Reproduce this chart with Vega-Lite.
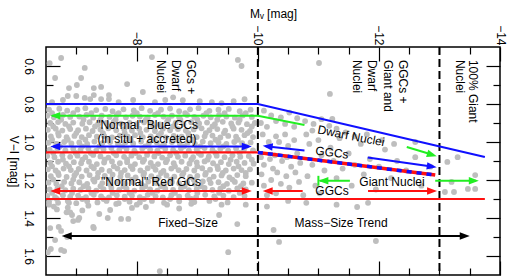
{
"$schema": "https://vega.github.io/schema/vega-lite/v6.json",
"width": 454, "height": 228,
"autosize": {"type": "none"},
"padding": {"left": 46, "top": 47, "right": 8, "bottom": 5},
"config": {
  "view": {"stroke": "#000", "strokeWidth": 1.5},
  "font": "Liberation Sans",
  "axis": {"labelFont": "Liberation Sans", "labelFontSize": 12, "labelColor": "#000", "titleFont": "Liberation Sans", "titleFontSize": 12, "titleFontWeight": "normal", "titleColor": "#000", "grid": false, "domain": false, "tickColor": "#000", "tickWidth": 1.2}
},
"resolve": {"axis": {"x": "independent", "y": "independent"}},
"datasets": {
"stars": [
{"mv":-6.75,"vi":0.558},{"mv":-7.14,"vi":0.61},{"mv":-6.65,"vi":0.663},{"mv":-7.08,"vi":0.663},{"mv":-7.84,"vi":0.695},{"mv":-6.88,"vi":0.716},{"mv":-7.01,"vi":0.70},{"mv":-7.29,"vi":0.716},{"mv":-7.41,"vi":0.71},{"mv":-8.10,"vi":0.737},{"mv":-6.86,"vi":0.758},{"mv":-7.0,"vi":0.758},{"mv":-7.14,"vi":0.768},{"mv":-7.29,"vi":0.753},{"mv":-7.23,"vi":0.774},{"mv":-7.41,"vi":0.774},{"mv":-7.54,"vi":0.753},{"mv":-7.54,"vi":0.774},{"mv":-7.94,"vi":0.779},{"mv":-6.78,"vi":0.779},{"mv":-9.67,"vi":0.568},{"mv":-9.73,"vi":0.60},{"mv":-8.47,"vi":0.779},{"mv":-8.76,"vi":0.78},{"mv":-9.04,"vi":0.785},{"mv":-9.24,"vi":0.79},{"mv":-9.6,"vi":0.785},{"mv":-9.78,"vi":0.775},{"mv":-6.6,"vi":0.79},{"mv":-7.7,"vi":0.79},{"mv":-8.3,"vi":0.79},{"mv":-9.4,"vi":0.795},{"mv":-8.6,"vi":0.765},{"mv":-6.56,"vi":0.585},{"mv":-8.25,"vi":0.553},
{"mv":-11.01,"vi":0.584},{"mv":-11.19,"vi":0.747},{"mv":-10.1,"vi":0.835},{"mv":-10.22,"vi":0.86},{"mv":-10.38,"vi":0.87},{"mv":-10.52,"vi":0.845},{"mv":-10.65,"vi":0.875},{"mv":-10.3,"vi":0.89},{"mv":-10.45,"vi":0.905},{"mv":-10.6,"vi":0.92},{"mv":-10.78,"vi":0.89},{"mv":-10.92,"vi":0.905},{"mv":-11.05,"vi":0.88},{"mv":-11.18,"vi":0.915},{"mv":-11.3,"vi":0.93},{"mv":-11.45,"vi":0.95},{"mv":-11.23,"vi":0.879},{"mv":-10.15,"vi":0.92},{"mv":-10.05,"vi":0.9},{"mv":-10.9,"vi":0.94},{"mv":-11.6,"vi":0.97},{"mv":-11.8,"vi":0.96},{"mv":-12.05,"vi":0.99},{"mv":-12.25,"vi":1.01},{"mv":-12.6,"vi":1.0},
{"mv":-10.08,"vi":0.96},{"mv":-10.18,"vi":1.0},{"mv":-10.05,"vi":1.08},{"mv":-10.2,"vi":1.09},{"mv":-10.1,"vi":1.12},{"mv":-10.25,"vi":1.14},{"mv":-10.06,"vi":1.17},{"mv":-10.22,"vi":1.2},{"mv":-10.1,"vi":1.23},{"mv":-10.15,"vi":1.28},{"mv":-10.3,"vi":0.97},{"mv":-10.35,"vi":1.0},{"mv":-10.28,"vi":1.07},{"mv":-10.4,"vi":1.1},{"mv":-10.32,"vi":1.16},{"mv":-10.38,"vi":1.22},{"mv":-10.3,"vi":1.27},{"mv":-10.45,"vi":0.96},{"mv":-10.5,"vi":1.02},{"mv":-10.48,"vi":1.08},{"mv":-10.55,"vi":1.13},{"mv":-10.47,"vi":1.18},{"mv":-10.52,"vi":1.24},{"mv":-10.6,"vi":0.99},{"mv":-10.65,"vi":1.06},{"mv":-10.7,"vi":1.11},{"mv":-10.62,"vi":1.16},{"mv":-10.68,"vi":1.21},{"mv":-10.75,"vi":1.28},{"mv":-10.8,"vi":0.96},{"mv":-10.85,"vi":1.01},{"mv":-10.9,"vi":1.12},{"mv":-10.82,"vi":1.18},{"mv":-10.95,"vi":1.23},{"mv":-11.0,"vi":0.99},{"mv":-11.05,"vi":1.07},{"mv":-11.1,"vi":1.15},{"mv":-11.02,"vi":1.27},{"mv":-11.2,"vi":1.03},{"mv":-11.25,"vi":1.1},{"mv":-11.3,"vi":1.19},{"mv":-11.35,"vi":0.98},{"mv":-11.4,"vi":1.14},{"mv":-11.5,"vi":1.06},{"mv":-11.55,"vi":1.23},{"mv":-11.6,"vi":1.12},{"mv":-11.7,"vi":1.01},{"mv":-11.75,"vi":1.17},{"mv":-11.85,"vi":1.09},{"mv":-11.95,"vi":1.25},{"mv":-12.0,"vi":1.13},{"mv":-12.1,"vi":1.04},{"mv":-12.2,"vi":1.19},{"mv":-12.3,"vi":1.1},{"mv":-12.45,"vi":1.15},{"mv":-12.6,"vi":1.08},{"mv":-12.7,"vi":1.23},{"mv":-12.85,"vi":1.13},{"mv":-13.09,"vi":1.263},{"mv":-13.24,"vi":1.263},{"mv":-13.47,"vi":1.247},{"mv":-13.59,"vi":1.247},{"mv":-13.59,"vi":1.174},{"mv":-13.13,"vi":1.105},{"mv":-13.3,"vi":1.08},{"mv":-13.2,"vi":1.21},
{"mv":-6.55,"vi":1.33},{"mv":-6.63,"vi":1.34},{"mv":-6.88,"vi":1.32},{"mv":-6.86,"vi":1.345},{"mv":-6.68,"vi":1.355},{"mv":-6.93,"vi":1.384},{"mv":-6.84,"vi":1.37},{"mv":-7.05,"vi":1.40},{"mv":-6.95,"vi":1.416},{"mv":-7.38,"vi":1.379},{"mv":-7.52,"vi":1.40},{"mv":-7.56,"vi":1.358},{"mv":-7.66,"vi":1.326},{"mv":-7.74,"vi":1.405},{"mv":-7.86,"vi":1.405},{"mv":-7.92,"vi":1.347},{"mv":-8.15,"vi":1.342},{"mv":-6.57,"vi":1.453},{"mv":-6.71,"vi":1.447},{"mv":-6.75,"vi":1.468},{"mv":-7.29,"vi":1.453},{"mv":-6.65,"vi":1.516},{"mv":-6.58,"vi":1.563},{"mv":-6.75,"vi":1.568},{"mv":-6.80,"vi":1.574},{"mv":-6.53,"vi":1.58},{"mv":-9.36,"vi":1.384},{"mv":-9.66,"vi":1.432},{"mv":-9.51,"vi":1.58},{"mv":-8.38,"vi":1.68},{"mv":-6.85,"vi":1.50},{"mv":-8.5,"vi":1.33},{"mv":-8.9,"vi":1.325},{"mv":-9.4,"vi":1.33},{"mv":-7.2,"vi":1.335},{"mv":-7.1,"vi":1.36},{"mv":-8.0,"vi":1.33},{"mv":-9.8,"vi":1.33},{"mv":-8.7,"vi":1.35},{"mv":-7.03,"vi":1.41},{"mv":-7.28,"vi":1.447},{"mv":-6.9,"vi":1.37},
{"mv":-10.26,"vi":1.463},{"mv":-10.35,"vi":1.526},{"mv":-11.95,"vi":1.521},{"mv":-11.64,"vi":1.342},{"mv":-11.82,"vi":1.32},{"mv":-10.5,"vi":1.31},{"mv":-10.8,"vi":1.32},{"mv":-11.3,"vi":1.33},{"mv":-10.15,"vi":1.34},
{"mv":-6.55,"vi":0.83},{"mv":-6.72,"vi":0.825},{"mv":-6.85,"vi":0.835},{"mv":-7.02,"vi":0.83},{"mv":-7.15,"vi":0.822},{"mv":-7.33,"vi":0.832},{"mv":-7.48,"vi":0.826},{"mv":-7.6,"vi":0.838},{"mv":-7.78,"vi":0.828},{"mv":-7.95,"vi":0.834},{"mv":-8.08,"vi":0.822},{"mv":-8.22,"vi":0.836},{"mv":-8.4,"vi":0.83},{"mv":-8.55,"vi":0.824},{"mv":-8.7,"vi":0.838},{"mv":-8.88,"vi":0.828},{"mv":-9.02,"vi":0.822},{"mv":-9.2,"vi":0.836},{"mv":-9.35,"vi":0.83},{"mv":-9.52,"vi":0.826},{"mv":-9.7,"vi":0.838},{"mv":-9.88,"vi":0.83},
{"mv":-6.52,"vi":0.862},{"mv":-6.63,"vi":0.87},{"mv":-6.78,"vi":0.858},{"mv":-6.9,"vi":0.868},{"mv":-7.05,"vi":0.866},{"mv":-7.17,"vi":0.858},{"mv":-7.28,"vi":0.872},{"mv":-7.42,"vi":0.862},{"mv":-7.55,"vi":0.868},{"mv":-7.67,"vi":0.858},{"mv":-7.82,"vi":0.87},{"mv":-7.93,"vi":0.862},{"mv":-8.05,"vi":0.866},{"mv":-8.18,"vi":0.872},{"mv":-8.3,"vi":0.858},{"mv":-8.44,"vi":0.866},{"mv":-8.58,"vi":0.862},{"mv":-8.7,"vi":0.87},{"mv":-8.83,"vi":0.858},{"mv":-8.95,"vi":0.868},{"mv":-9.1,"vi":0.862},{"mv":-9.22,"vi":0.87},{"mv":-9.36,"vi":0.858},{"mv":-9.48,"vi":0.866},{"mv":-9.62,"vi":0.872},{"mv":-9.75,"vi":0.86},{"mv":-9.9,"vi":0.868},
{"mv":-6.57,"vi":0.9},{"mv":-6.7,"vi":0.895},{"mv":-6.82,"vi":0.905},{"mv":-6.95,"vi":0.898},{"mv":-7.1,"vi":0.904},{"mv":-7.22,"vi":0.896},{"mv":-7.36,"vi":0.906},{"mv":-7.5,"vi":0.9},{"mv":-7.62,"vi":0.894},{"mv":-7.74,"vi":0.904},{"mv":-7.88,"vi":0.9},{"mv":-8.0,"vi":0.906},{"mv":-8.12,"vi":0.896},{"mv":-8.25,"vi":0.902},{"mv":-8.38,"vi":0.908},{"mv":-8.5,"vi":0.894},{"mv":-8.64,"vi":0.9},{"mv":-8.77,"vi":0.906},{"mv":-8.9,"vi":0.896},{"mv":-9.03,"vi":0.902},{"mv":-9.16,"vi":0.898},{"mv":-9.29,"vi":0.906},{"mv":-9.42,"vi":0.894},{"mv":-9.56,"vi":0.902},{"mv":-9.68,"vi":0.898},{"mv":-9.82,"vi":0.906},{"mv":-9.95,"vi":0.9},
{"mv":-6.53,"vi":0.936},{"mv":-6.66,"vi":0.93},{"mv":-6.77,"vi":0.94},{"mv":-6.9,"vi":0.932},{"mv":-7.03,"vi":0.938},{"mv":-7.16,"vi":0.93},{"mv":-7.27,"vi":0.942},{"mv":-7.4,"vi":0.934},{"mv":-7.53,"vi":0.928},{"mv":-7.66,"vi":0.938},{"mv":-7.79,"vi":0.932},{"mv":-7.92,"vi":0.94},{"mv":-8.04,"vi":0.93},{"mv":-8.16,"vi":0.936},{"mv":-8.3,"vi":0.942},{"mv":-8.43,"vi":0.93},{"mv":-8.55,"vi":0.938},{"mv":-8.68,"vi":0.932},{"mv":-8.81,"vi":0.94},{"mv":-8.94,"vi":0.934},{"mv":-9.07,"vi":0.928},{"mv":-9.2,"vi":0.938},{"mv":-9.33,"vi":0.932},{"mv":-9.46,"vi":0.94},{"mv":-9.6,"vi":0.93},{"mv":-9.73,"vi":0.936},{"mv":-9.87,"vi":0.942},
{"mv":-6.58,"vi":0.97},{"mv":-6.71,"vi":0.966},{"mv":-6.84,"vi":0.975},{"mv":-6.97,"vi":0.968},{"mv":-7.09,"vi":0.974},{"mv":-7.21,"vi":0.964},{"mv":-7.34,"vi":0.972},{"mv":-7.46,"vi":0.968},{"mv":-7.59,"vi":0.976},{"mv":-7.72,"vi":0.966},{"mv":-7.85,"vi":0.972},{"mv":-7.97,"vi":0.964},{"mv":-8.1,"vi":0.974},{"mv":-8.23,"vi":0.97},{"mv":-8.36,"vi":0.966},{"mv":-8.48,"vi":0.976},{"mv":-8.61,"vi":0.968},{"mv":-8.74,"vi":0.972},{"mv":-8.86,"vi":0.964},{"mv":-8.99,"vi":0.974},{"mv":-9.12,"vi":0.97},{"mv":-9.25,"vi":0.966},{"mv":-9.38,"vi":0.976},{"mv":-9.51,"vi":0.968},{"mv":-9.64,"vi":0.972},{"mv":-9.78,"vi":0.964},{"mv":-9.92,"vi":0.974},
{"mv":-6.54,"vi":1.004},{"mv":-6.67,"vi":1.01},{"mv":-6.8,"vi":1.0},{"mv":-6.92,"vi":1.008},{"mv":-7.05,"vi":1.002},{"mv":-7.18,"vi":1.01},{"mv":-7.3,"vi":0.998},{"mv":-7.43,"vi":1.006},{"mv":-7.56,"vi":1.0},{"mv":-7.69,"vi":1.01},{"mv":-7.81,"vi":1.002},{"mv":-7.94,"vi":1.008},{"mv":-8.07,"vi":0.998},{"mv":-8.2,"vi":1.006},{"mv":-8.33,"vi":1.002},{"mv":-8.45,"vi":1.01},{"mv":-8.58,"vi":1.0},{"mv":-8.71,"vi":1.008},{"mv":-8.84,"vi":1.002},{"mv":-8.96,"vi":1.01},{"mv":-9.09,"vi":0.998},{"mv":-9.22,"vi":1.006},{"mv":-9.35,"vi":1.002},{"mv":-9.48,"vi":1.01},{"mv":-9.61,"vi":1.0},{"mv":-9.74,"vi":1.006},{"mv":-9.88,"vi":1.002},
{"mv":-6.56,"vi":1.04},{"mv":-6.69,"vi":1.034},{"mv":-6.82,"vi":1.044},{"mv":-6.95,"vi":1.036},{"mv":-7.07,"vi":1.042},{"mv":-7.2,"vi":1.034},{"mv":-7.33,"vi":1.046},{"mv":-7.45,"vi":1.038},{"mv":-7.58,"vi":1.032},{"mv":-7.71,"vi":1.042},{"mv":-7.83,"vi":1.036},{"mv":-7.96,"vi":1.046},{"mv":-8.09,"vi":1.034},{"mv":-8.22,"vi":1.04},{"mv":-8.34,"vi":1.046},{"mv":-8.47,"vi":1.036},{"mv":-8.6,"vi":1.042},{"mv":-8.73,"vi":1.034},{"mv":-8.86,"vi":1.044},{"mv":-8.99,"vi":1.038},{"mv":-9.12,"vi":1.032},{"mv":-9.25,"vi":1.042},{"mv":-9.38,"vi":1.036},{"mv":-9.51,"vi":1.046},{"mv":-9.64,"vi":1.034},{"mv":-9.77,"vi":1.04},{"mv":-9.92,"vi":1.044},
{"mv":-6.52,"vi":1.074},{"mv":-6.64,"vi":1.08},{"mv":-6.77,"vi":1.07},{"mv":-6.9,"vi":1.078},{"mv":-7.02,"vi":1.072},{"mv":-7.15,"vi":1.08},{"mv":-7.28,"vi":1.068},{"mv":-7.4,"vi":1.076},{"mv":-7.53,"vi":1.082},{"mv":-7.66,"vi":1.07},{"mv":-7.79,"vi":1.078},{"mv":-7.91,"vi":1.072},{"mv":-8.04,"vi":1.08},{"mv":-8.17,"vi":1.068},{"mv":-8.29,"vi":1.076},{"mv":-8.42,"vi":1.082},{"mv":-8.55,"vi":1.07},{"mv":-8.68,"vi":1.078},{"mv":-8.8,"vi":1.072},{"mv":-8.93,"vi":1.08},{"mv":-9.06,"vi":1.068},{"mv":-9.19,"vi":1.076},{"mv":-9.32,"vi":1.072},{"mv":-9.45,"vi":1.08},{"mv":-9.58,"vi":1.07},{"mv":-9.71,"vi":1.078},{"mv":-9.85,"vi":1.074},
{"mv":-6.57,"vi":1.11},{"mv":-6.7,"vi":1.104},{"mv":-6.83,"vi":1.114},{"mv":-6.96,"vi":1.106},{"mv":-7.08,"vi":1.112},{"mv":-7.21,"vi":1.104},{"mv":-7.34,"vi":1.116},{"mv":-7.46,"vi":1.108},{"mv":-7.59,"vi":1.102},{"mv":-7.72,"vi":1.112},{"mv":-7.84,"vi":1.106},{"mv":-7.97,"vi":1.116},{"mv":-8.1,"vi":1.104},{"mv":-8.23,"vi":1.11},{"mv":-8.35,"vi":1.116},{"mv":-8.48,"vi":1.106},{"mv":-8.61,"vi":1.112},{"mv":-8.74,"vi":1.104},{"mv":-8.87,"vi":1.114},{"mv":-8.99,"vi":1.108},{"mv":-9.12,"vi":1.102},{"mv":-9.26,"vi":1.112},{"mv":-9.39,"vi":1.106},{"mv":-9.52,"vi":1.116},{"mv":-9.65,"vi":1.104},{"mv":-9.78,"vi":1.11},{"mv":-9.93,"vi":1.114},
{"mv":-6.53,"vi":1.144},{"mv":-6.66,"vi":1.15},{"mv":-6.79,"vi":1.14},{"mv":-6.91,"vi":1.148},{"mv":-7.04,"vi":1.142},{"mv":-7.17,"vi":1.15},{"mv":-7.29,"vi":1.138},{"mv":-7.42,"vi":1.146},{"mv":-7.55,"vi":1.152},{"mv":-7.68,"vi":1.14},{"mv":-7.8,"vi":1.148},{"mv":-7.93,"vi":1.142},{"mv":-8.06,"vi":1.15},{"mv":-8.18,"vi":1.138},{"mv":-8.31,"vi":1.146},{"mv":-8.44,"vi":1.152},{"mv":-8.57,"vi":1.14},{"mv":-8.69,"vi":1.148},{"mv":-8.82,"vi":1.142},{"mv":-8.95,"vi":1.15},{"mv":-9.08,"vi":1.138},{"mv":-9.21,"vi":1.146},{"mv":-9.34,"vi":1.142},{"mv":-9.47,"vi":1.15},{"mv":-9.6,"vi":1.14},{"mv":-9.73,"vi":1.148},{"mv":-9.87,"vi":1.144},
{"mv":-6.58,"vi":1.18},{"mv":-6.71,"vi":1.174},{"mv":-6.84,"vi":1.184},{"mv":-6.97,"vi":1.176},{"mv":-7.09,"vi":1.182},{"mv":-7.22,"vi":1.174},{"mv":-7.35,"vi":1.186},{"mv":-7.47,"vi":1.178},{"mv":-7.6,"vi":1.172},{"mv":-7.73,"vi":1.182},{"mv":-7.85,"vi":1.176},{"mv":-7.98,"vi":1.186},{"mv":-8.11,"vi":1.174},{"mv":-8.24,"vi":1.18},{"mv":-8.36,"vi":1.186},{"mv":-8.49,"vi":1.176},{"mv":-8.62,"vi":1.182},{"mv":-8.75,"vi":1.174},{"mv":-8.88,"vi":1.184},{"mv":-9.0,"vi":1.178},{"mv":-9.13,"vi":1.172},{"mv":-9.27,"vi":1.182},{"mv":-9.4,"vi":1.176},{"mv":-9.53,"vi":1.186},{"mv":-9.66,"vi":1.174},{"mv":-9.8,"vi":1.18},
{"mv":-6.54,"vi":1.214},{"mv":-6.67,"vi":1.22},{"mv":-6.8,"vi":1.21},{"mv":-6.92,"vi":1.218},{"mv":-7.05,"vi":1.212},{"mv":-7.18,"vi":1.22},{"mv":-7.3,"vi":1.208},{"mv":-7.43,"vi":1.216},{"mv":-7.56,"vi":1.222},{"mv":-7.69,"vi":1.21},{"mv":-7.81,"vi":1.218},{"mv":-7.94,"vi":1.212},{"mv":-8.07,"vi":1.22},{"mv":-8.19,"vi":1.208},{"mv":-8.32,"vi":1.216},{"mv":-8.45,"vi":1.222},{"mv":-8.58,"vi":1.21},{"mv":-8.7,"vi":1.218},{"mv":-8.83,"vi":1.212},{"mv":-8.96,"vi":1.22},{"mv":-9.09,"vi":1.208},{"mv":-9.22,"vi":1.216},{"mv":-9.35,"vi":1.212},{"mv":-9.49,"vi":1.22},{"mv":-9.62,"vi":1.21},{"mv":-9.76,"vi":1.218},{"mv":-9.9,"vi":1.214},
{"mv":-6.56,"vi":1.25},{"mv":-6.69,"vi":1.244},{"mv":-6.82,"vi":1.254},{"mv":-6.95,"vi":1.246},{"mv":-7.07,"vi":1.252},{"mv":-7.2,"vi":1.244},{"mv":-7.33,"vi":1.256},{"mv":-7.45,"vi":1.248},{"mv":-7.58,"vi":1.242},{"mv":-7.71,"vi":1.252},{"mv":-7.83,"vi":1.246},{"mv":-7.96,"vi":1.256},{"mv":-8.09,"vi":1.244},{"mv":-8.22,"vi":1.25},{"mv":-8.34,"vi":1.256},{"mv":-8.47,"vi":1.246},{"mv":-8.6,"vi":1.252},{"mv":-8.73,"vi":1.244},{"mv":-8.86,"vi":1.254},{"mv":-8.99,"vi":1.248},{"mv":-9.12,"vi":1.242},{"mv":-9.25,"vi":1.252},{"mv":-9.38,"vi":1.246},{"mv":-9.52,"vi":1.256},{"mv":-9.66,"vi":1.244},{"mv":-9.8,"vi":1.25},
{"mv":-6.52,"vi":1.284},{"mv":-6.65,"vi":1.29},{"mv":-6.78,"vi":1.28},{"mv":-6.9,"vi":1.288},{"mv":-7.03,"vi":1.282},{"mv":-7.16,"vi":1.29},{"mv":-7.29,"vi":1.278},{"mv":-7.41,"vi":1.286},{"mv":-7.54,"vi":1.292},{"mv":-7.67,"vi":1.28},{"mv":-7.8,"vi":1.288},{"mv":-7.92,"vi":1.282},{"mv":-8.05,"vi":1.29},{"mv":-8.18,"vi":1.278},{"mv":-8.31,"vi":1.286},{"mv":-8.43,"vi":1.292},{"mv":-8.57,"vi":1.28},{"mv":-8.7,"vi":1.288},{"mv":-8.84,"vi":1.282},{"mv":-8.98,"vi":1.29},{"mv":-9.13,"vi":1.278},{"mv":-9.28,"vi":1.286},{"mv":-9.43,"vi":1.282},{"mv":-9.6,"vi":1.29},{"mv":-9.78,"vi":1.284},
{"mv":-6.55,"vi":1.315},{"mv":-6.7,"vi":1.32},{"mv":-6.86,"vi":1.31},{"mv":-7.0,"vi":1.322},{"mv":-7.18,"vi":1.312},{"mv":-7.35,"vi":1.318},{"mv":-7.5,"vi":1.31},{"mv":-7.7,"vi":1.322},{"mv":-7.88,"vi":1.314},{"mv":-8.05,"vi":1.318},{"mv":-8.25,"vi":1.31},{"mv":-8.45,"vi":1.32},{"mv":-8.7,"vi":1.312},{"mv":-8.95,"vi":1.316},{"mv":-9.2,"vi":1.31},{"mv":-9.5,"vi":1.318},
{"mv":-6.6,"vi":0.848},{"mv":-6.95,"vi":0.848},{"mv":-7.25,"vi":0.848},{"mv":-7.7,"vi":0.848},{"mv":-8.0,"vi":0.848},{"mv":-8.35,"vi":0.848},{"mv":-8.8,"vi":0.848},{"mv":-9.15,"vi":0.848},{"mv":-9.45,"vi":0.848},{"mv":-9.8,"vi":0.848},
{"mv":-6.75,"vi":0.883},{"mv":-7.12,"vi":0.883},{"mv":-7.4,"vi":0.883},{"mv":-7.65,"vi":0.883},{"mv":-8.15,"vi":0.883},{"mv":-8.52,"vi":0.883},{"mv":-8.72,"vi":0.883},{"mv":-9.0,"vi":0.883},{"mv":-9.33,"vi":0.883},{"mv":-9.7,"vi":0.883},
{"mv":-6.62,"vi":0.918},{"mv":-6.88,"vi":0.918},{"mv":-7.31,"vi":0.918},{"mv":-7.58,"vi":0.918},{"mv":-7.85,"vi":0.918},{"mv":-8.27,"vi":0.918},{"mv":-8.6,"vi":0.918},{"mv":-8.98,"vi":0.918},{"mv":-9.25,"vi":0.918},{"mv":-9.58,"vi":0.918},{"mv":-9.9,"vi":0.918},
{"mv":-6.7,"vi":0.953},{"mv":-7.0,"vi":0.953},{"mv":-7.44,"vi":0.953},{"mv":-7.8,"vi":0.953},{"mv":-8.06,"vi":0.953},{"mv":-8.4,"vi":0.953},{"mv":-8.85,"vi":0.953},{"mv":-9.14,"vi":0.953},{"mv":-9.44,"vi":0.953},{"mv":-9.83,"vi":0.953},
{"mv":-6.6,"vi":0.988},{"mv":-6.86,"vi":0.988},{"mv":-7.15,"vi":0.988},{"mv":-7.52,"vi":0.988},{"mv":-7.9,"vi":0.988},{"mv":-8.28,"vi":0.988},{"mv":-8.65,"vi":0.988},{"mv":-8.92,"vi":0.988},{"mv":-9.3,"vi":0.988},{"mv":-9.67,"vi":0.988},
{"mv":-6.73,"vi":1.023},{"mv":-7.1,"vi":1.023},{"mv":-7.38,"vi":1.023},{"mv":-7.76,"vi":1.023},{"mv":-8.14,"vi":1.023},{"mv":-8.4,"vi":1.023},{"mv":-8.78,"vi":1.023},{"mv":-9.05,"vi":1.023},{"mv":-9.43,"vi":1.023},{"mv":-9.8,"vi":1.023},
{"mv":-6.62,"vi":1.058},{"mv":-6.99,"vi":1.058},{"mv":-7.24,"vi":1.058},{"mv":-7.62,"vi":1.058},{"mv":-7.98,"vi":1.058},{"mv":-8.36,"vi":1.058},{"mv":-8.65,"vi":1.058},{"mv":-9.02,"vi":1.058},{"mv":-9.3,"vi":1.058},{"mv":-9.7,"vi":1.058},
{"mv":-6.78,"vi":1.093},{"mv":-7.1,"vi":1.093},{"mv":-7.47,"vi":1.093},{"mv":-7.84,"vi":1.093},{"mv":-8.12,"vi":1.093},{"mv":-8.5,"vi":1.093},{"mv":-8.9,"vi":1.093},{"mv":-9.17,"vi":1.093},{"mv":-9.55,"vi":1.093},{"mv":-9.9,"vi":1.093},
{"mv":-6.6,"vi":1.128},{"mv":-6.88,"vi":1.128},{"mv":-7.25,"vi":1.128},{"mv":-7.62,"vi":1.128},{"mv":-7.9,"vi":1.128},{"mv":-8.27,"vi":1.128},{"mv":-8.63,"vi":1.128},{"mv":-9.0,"vi":1.128},{"mv":-9.33,"vi":1.128},{"mv":-9.68,"vi":1.128},
{"mv":-6.7,"vi":1.163},{"mv":-7.0,"vi":1.163},{"mv":-7.36,"vi":1.163},{"mv":-7.74,"vi":1.163},{"mv":-8.12,"vi":1.163},{"mv":-8.4,"vi":1.163},{"mv":-8.77,"vi":1.163},{"mv":-9.14,"vi":1.163},{"mv":-9.42,"vi":1.163},{"mv":-9.8,"vi":1.163},
{"mv":-6.62,"vi":1.198},{"mv":-6.95,"vi":1.198},{"mv":-7.28,"vi":1.198},{"mv":-7.55,"vi":1.198},{"mv":-7.92,"vi":1.198},{"mv":-8.3,"vi":1.198},{"mv":-8.56,"vi":1.198},{"mv":-8.94,"vi":1.198},{"mv":-9.2,"vi":1.198},{"mv":-9.58,"vi":1.198},
{"mv":-6.76,"vi":1.233},{"mv":-7.12,"vi":1.233},{"mv":-7.4,"vi":1.233},{"mv":-7.78,"vi":1.233},{"mv":-8.14,"vi":1.233},{"mv":-8.4,"vi":1.233},{"mv":-8.79,"vi":1.233},{"mv":-9.06,"vi":1.233},{"mv":-9.43,"vi":1.233},{"mv":-9.72,"vi":1.233},
{"mv":-6.6,"vi":1.268},{"mv":-6.93,"vi":1.268},{"mv":-7.25,"vi":1.268},{"mv":-7.6,"vi":1.268},{"mv":-7.88,"vi":1.268},{"mv":-8.26,"vi":1.268},{"mv":-8.63,"vi":1.268},{"mv":-9.0,"vi":1.268},{"mv":-9.36,"vi":1.268},{"mv":-9.7,"vi":1.268},
{"mv":-6.68,"vi":1.3},{"mv":-7.1,"vi":1.3},{"mv":-7.45,"vi":1.3},{"mv":-7.8,"vi":1.3},{"mv":-8.12,"vi":1.3},{"mv":-8.55,"vi":1.3},{"mv":-8.9,"vi":1.3},{"mv":-9.3,"vi":1.3}
],
"bounds": [
{"line":"blue upper","kind":"blue GCs","mv":-6.5,"vi":0.8,"o":1},{"line":"blue upper","kind":"blue GCs","mv":-10,"vi":0.8,"o":2},{"line":"blue upper","kind":"blue GCs","mv":-13.75,"vi":1.079,"o":3},
{"line":"red lower","kind":"red GCs","mv":-6.5,"vi":1.3,"o":1},{"line":"red lower","kind":"red GCs","mv":-13.75,"vi":1.3,"o":2},
{"line":"split","kind":"red GCs","mv":-6.5,"vi":1.055,"o":1},{"line":"split","kind":"red GCs","mv":-10,"vi":1.055,"o":2}
],
"trend": [{"mv":-10,"vi":1.055,"o":1},{"mv":-12.93,"vi":1.174,"o":2}],
"splits": [{"mv":-10},{"mv":-13}],
"shafts": [
{"arrow":"G1","kind":"nuclei","mv":-6.6,"vi":0.862,"o":1},{"arrow":"G1","kind":"nuclei","mv":-10,"vi":0.862,"o":2},{"arrow":"G1","kind":"nuclei","mv":-10.77,"vi":0.911,"o":3},
{"arrow":"G2","kind":"nuclei","mv":-12.46,"vi":1.026,"o":1},{"arrow":"G2","kind":"nuclei","mv":-12.9,"vi":1.068,"o":2},
{"arrow":"G3","kind":"nuclei","mv":-11.02,"vi":1.204,"o":1},{"arrow":"G3","kind":"nuclei","mv":-11.52,"vi":1.204,"o":2},
{"arrow":"G3bar","kind":"nuclei","mv":-11.0,"vi":1.178,"o":1},{"arrow":"G3bar","kind":"nuclei","mv":-11.0,"vi":1.23,"o":2},
{"arrow":"G4","kind":"nuclei","mv":-12.93,"vi":1.204,"o":1},{"arrow":"G4","kind":"nuclei","mv":-13.6,"vi":1.204,"o":2},
{"arrow":"B1","kind":"blue GCs","mv":-6.62,"vi":1.024,"o":1},{"arrow":"B1","kind":"blue GCs","mv":-9.85,"vi":1.024,"o":2},
{"arrow":"B2","kind":"blue GCs","mv":-10.13,"vi":1.022,"o":1},{"arrow":"B2","kind":"blue GCs","mv":-10.77,"vi":1.045,"o":2},
{"arrow":"B3","kind":"blue GCs","mv":-11.815,"vi":1.081,"o":1},{"arrow":"B3","kind":"blue GCs","mv":-12.9,"vi":1.13,"o":2},
{"arrow":"R1","kind":"red GCs","mv":-6.62,"vi":1.258,"o":1},{"arrow":"R1","kind":"red GCs","mv":-9.85,"vi":1.258,"o":2},
{"arrow":"R2","kind":"red GCs","mv":-10.13,"vi":1.258,"o":1},{"arrow":"R2","kind":"red GCs","mv":-10.74,"vi":1.258,"o":2},
{"arrow":"R3","kind":"red GCs","mv":-11.82,"vi":1.258,"o":1},{"arrow":"R3","kind":"red GCs","mv":-12.91,"vi":1.258,"o":2},
{"arrow":"K1","kind":"size","mv":-6.81,"vi":1.495,"o":1},{"arrow":"K1","kind":"size","mv":-13.45,"vi":1.495,"o":2}
],
"heads": [
{"arrow":"G1","kind":"nuclei","mv":-6.57,"vi":0.862,"dir":180},
{"arrow":"G2","kind":"nuclei","mv":-12.955,"vi":1.075,"dir":17},
{"arrow":"G3","kind":"nuclei","mv":-11.0,"vi":1.204,"dir":180},
{"arrow":"G4","kind":"nuclei","mv":-13.65,"vi":1.204,"dir":0},
{"arrow":"B1","kind":"blue GCs","mv":-6.57,"vi":1.024,"dir":180},
{"arrow":"B1","kind":"blue GCs","mv":-9.9,"vi":1.024,"dir":0},
{"arrow":"B2","kind":"blue GCs","mv":-10.08,"vi":1.02,"dir":187},
{"arrow":"B3","kind":"blue GCs","mv":-12.955,"vi":1.133,"dir":8},
{"arrow":"R1","kind":"red GCs","mv":-6.57,"vi":1.258,"dir":180},
{"arrow":"R1","kind":"red GCs","mv":-9.9,"vi":1.258,"dir":0},
{"arrow":"R2","kind":"red GCs","mv":-10.08,"vi":1.258,"dir":180},
{"arrow":"R3","kind":"red GCs","mv":-12.96,"vi":1.258,"dir":0},
{"arrow":"K1","kind":"size","mv":-6.76,"vi":1.495,"dir":180},
{"arrow":"K1","kind":"size","mv":-13.5,"vi":1.495,"dir":0}
],
"flatLabels": [
{"text":"\"Normal\" Blue GCs","mv":-8.17,"vi":0.91},
{"text":"(in situ + accreted)","mv":-8.17,"vi":0.985},
{"text":"\"Normal\" Red GCs","mv":-8.235,"vi":1.209},
{"text":"Fixed−Size","mv":-8.846,"vi":1.426},
{"text":"Mass−Size Trend","mv":-11.374,"vi":1.426},
{"text":"GGCs","mv":-11.225,"vi":1.258},
{"text":"Giant Nuclei","mv":-12.216,"vi":1.209}
],
"sideLabels": [
{"text":"GCs +","mv":-8.895,"vi":0.568},
{"text":"Dwarf","mv":-8.648,"vi":0.568},
{"text":"Nuclei","mv":-8.40,"vi":0.568},
{"text":"GGCs +","mv":-12.39,"vi":0.568},
{"text":"Giant and","mv":-12.142,"vi":0.568},
{"text":"Dwarf","mv":-11.886,"vi":0.568},
{"text":"Nuclei","mv":-11.638,"vi":0.568},
{"text":"100% Giant","mv":-13.554,"vi":0.568},
{"text":"Nuclei","mv":-13.331,"vi":0.568}
]
},
"layer": [
{
 "data": {"name": "stars"},
 "mark": {"type": "circle", "size": 34, "color": "#bebebe", "opacity": 1, "clip": true},
 "encoding": {
  "x": {"field": "mv", "type": "quantitative", "scale": {"domain": [-14, -6.5], "reverse": true, "nice": false, "zero": false},
        "axis": {"orient": "top", "values": [-8, -10, -12, -14], "ticks": false, "labelAngle": 90, "labelAlign": "right", "labelBaseline": "middle", "labelPadding": 2, "labelFlush": false, "title": "Mᵥ [mag]", "titlePadding": 4}},
  "y": {"field": "vi", "type": "quantitative", "scale": {"domain": [0.5, 1.7], "reverse": true, "nice": false, "zero": false},
        "axis": {"orient": "left", "values": [0.6, 0.8, 1.0, 1.2, 1.4, 1.6], "format": ".1f", "ticks": false, "labelAngle": 90, "labelAlign": "center", "labelBaseline": "top", "labelPadding": 13, "labelFlush": false, "title": "V−I [mag]", "titleAngle": 90, "titleBaseline": "top", "titlePadding": 4}}
 }
},
{
 "data": {"name": "splits"},
 "mark": {"type": "rule", "color": "#000", "strokeWidth": 2, "strokeDash": [8, 4]},
 "encoding": {
  "x": {"field": "mv", "type": "quantitative", "scale": {"domain": [-14, -6.5], "reverse": true, "nice": false, "zero": false},
        "axis": {"orient": "top", "values": [-8, -10, -12, -14], "labels": false, "tickSize": 14, "offset": -14, "title": null}}
 }
},
{
 "data": {"name": "bounds"},
 "mark": {"type": "line", "strokeWidth": 2.2},
 "encoding": {
  "x": {"field": "mv", "type": "quantitative", "scale": {"domain": [-14, -6.5], "reverse": true, "nice": false, "zero": false},
        "axis": {"orient": "top", "values": [-7, -7.5, -8.5, -9, -9.5, -10.5, -11, -11.5, -12.5, -13, -13.5], "labels": false, "tickSize": 7, "offset": -7, "title": null}},
  "y": {"field": "vi", "type": "quantitative", "scale": {"domain": [0.5, 1.7], "reverse": true, "nice": false, "zero": false},
        "axis": {"orient": "left", "values": [0.6, 0.8, 1.0, 1.2, 1.4, 1.6], "labels": false, "tickSize": 14, "offset": -14, "title": null}},
  "color": {"field": "kind", "type": "nominal", "scale": {"domain": ["blue GCs", "red GCs", "nuclei", "size"], "range": ["#1010ff", "#ff1010", "#22ee22", "#000000"]}, "legend": null},
  "detail": {"field": "line"},
  "order": {"field": "o", "type": "quantitative"}
 }
},
{
 "data": {"name": "trend"},
 "mark": {"type": "line", "strokeWidth": 3.5, "color": "#ff1010"},
 "encoding": {
  "x": {"field": "mv", "type": "quantitative", "scale": {"domain": [-14, -6.5], "reverse": true, "nice": false, "zero": false},
        "axis": {"orient": "bottom", "values": [-8, -10, -12, -14], "labels": false, "tickSize": 14, "offset": -14, "title": null}},
  "y": {"field": "vi", "type": "quantitative", "scale": {"domain": [0.5, 1.7], "reverse": true, "nice": false, "zero": false},
        "axis": {"orient": "left", "values": [0.7, 0.9, 1.1, 1.3, 1.5], "labels": false, "tickSize": 7, "offset": -7, "title": null}},
  "order": {"field": "o", "type": "quantitative"}
 }
},
{
 "data": {"name": "trend"},
 "mark": {"type": "line", "strokeWidth": 3.5, "color": "#1010ff", "strokeDash": [5, 5]},
 "encoding": {
  "x": {"field": "mv", "type": "quantitative", "scale": {"domain": [-14, -6.5], "reverse": true, "nice": false, "zero": false},
        "axis": {"orient": "bottom", "values": [-7, -7.5, -8.5, -9, -9.5, -10.5, -11, -11.5, -12.5, -13, -13.5], "labels": false, "tickSize": 7, "offset": -7, "title": null}},
  "y": {"field": "vi", "type": "quantitative", "scale": {"domain": [0.5, 1.7], "reverse": true, "nice": false, "zero": false},
        "axis": {"orient": "right", "values": [0.6, 0.8, 1.0, 1.2, 1.4, 1.6], "labels": false, "tickSize": 14, "offset": -14, "title": null}},
  "order": {"field": "o", "type": "quantitative"}
 }
},
{
 "data": {"name": "shafts"},
 "mark": {"type": "line", "strokeWidth": 2},
 "encoding": {
  "x": {"field": "mv", "type": "quantitative", "scale": {"domain": [-14, -6.5], "reverse": true, "nice": false, "zero": false}, "axis": null},
  "y": {"field": "vi", "type": "quantitative", "scale": {"domain": [0.5, 1.7], "reverse": true, "nice": false, "zero": false},
        "axis": {"orient": "right", "values": [0.7, 0.9, 1.1, 1.3, 1.5], "labels": false, "tickSize": 7, "offset": -7, "title": null}},
  "color": {"field": "kind", "type": "nominal", "legend": null},
  "detail": {"field": "arrow"},
  "order": {"field": "o", "type": "quantitative"}
 }
},
{
 "data": {"name": "heads"},
 "mark": {"type": "point", "shape": "M0,0L-2,-0.75L-2,0.75Z", "size": 100, "filled": true, "opacity": 1, "strokeWidth": 0},
 "encoding": {
  "x": {"field": "mv", "type": "quantitative", "scale": {"domain": [-14, -6.5], "reverse": true, "nice": false, "zero": false}, "axis": null},
  "y": {"field": "vi", "type": "quantitative", "scale": {"domain": [0.5, 1.7], "reverse": true, "nice": false, "zero": false}, "axis": null},
  "color": {"field": "kind", "type": "nominal", "legend": null},
  "angle": {"field": "dir", "type": "quantitative", "scale": null}
 }
},
{
 "data": {"name": "flatLabels"},
 "mark": {"type": "text", "font": "Liberation Sans", "fontSize": 12, "color": "#000", "align": "center", "baseline": "middle"},
 "encoding": {
  "x": {"field": "mv", "type": "quantitative", "scale": {"domain": [-14, -6.5], "reverse": true, "nice": false, "zero": false}, "axis": null},
  "y": {"field": "vi", "type": "quantitative", "scale": {"domain": [0.5, 1.7], "reverse": true, "nice": false, "zero": false}, "axis": null},
  "text": {"field": "text"}
 }
},
{
 "data": {"name": "sideLabels"},
 "mark": {"type": "text", "font": "Liberation Sans", "fontSize": 12, "color": "#000", "align": "left", "baseline": "middle", "angle": 90},
 "encoding": {
  "x": {"field": "mv", "type": "quantitative", "scale": {"domain": [-14, -6.5], "reverse": true, "nice": false, "zero": false}, "axis": null},
  "y": {"field": "vi", "type": "quantitative", "scale": {"domain": [0.5, 1.7], "reverse": true, "nice": false, "zero": false}, "axis": null},
  "text": {"field": "text"}
 }
},
{
 "data": {"values": [{"text": "Dwarf Nuclei", "mv": -11.54, "vi": 0.968}]},
 "mark": {"type": "text", "font": "Liberation Sans", "fontSize": 12, "color": "#000", "align": "center", "baseline": "middle", "angle": 11},
 "encoding": {
  "x": {"field": "mv", "type": "quantitative", "scale": {"domain": [-14, -6.5], "reverse": true, "nice": false, "zero": false}, "axis": null},
  "y": {"field": "vi", "type": "quantitative", "scale": {"domain": [0.5, 1.7], "reverse": true, "nice": false, "zero": false}, "axis": null},
  "text": {"field": "text"}
 }
},
{
 "data": {"values": [{"text": "GGCs", "mv": -11.225, "vi": 1.056}]},
 "mark": {"type": "text", "font": "Liberation Sans", "fontSize": 12, "color": "#000", "align": "center", "baseline": "middle", "angle": 7},
 "encoding": {
  "x": {"field": "mv", "type": "quantitative", "scale": {"domain": [-14, -6.5], "reverse": true, "nice": false, "zero": false}, "axis": null},
  "y": {"field": "vi", "type": "quantitative", "scale": {"domain": [0.5, 1.7], "reverse": true, "nice": false, "zero": false}, "axis": null},
  "text": {"field": "text"}
 }
}
]
}
